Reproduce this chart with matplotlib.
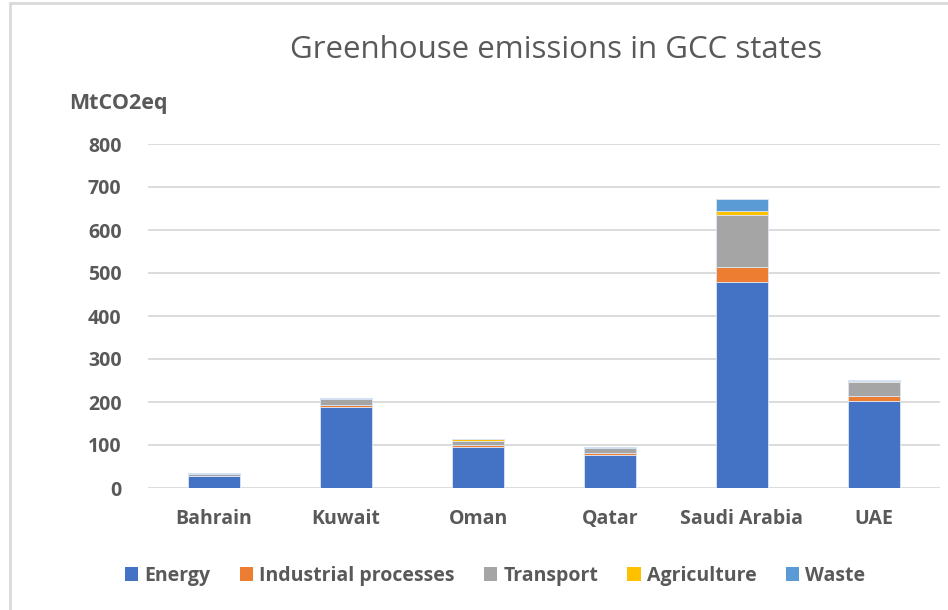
import numpy as np
import matplotlib.pyplot as plt
from matplotlib.patches import Patch, Rectangle

# Chart data (MtCO2eq).
countries = ['Bahrain', 'Kuwait', 'Oman', 'Qatar', 'Saudi Arabia', 'UAE']
sectors = ['Energy', 'Industrial processes', 'Transport', 'Agriculture', 'Waste']
energy = [28, 188, 95, 77, 478, 202]
industrial = [1, 5, 4, 4, 35, 12]
transport = [4, 13, 11, 11, 122, 33]
agriculture = [0.5, 0.5, 3, 1, 9, 3]
waste = [1, 2, 2, 2, 27, 2]
yticks = [0, 100, 200, 300, 400, 500, 600, 700, 800]

COLORS = ['#4472C4', '#ED7D31', '#A5A5A5', '#FFC000', '#5B9BD5']
TEXT = '#595959'
FONT = 'Open Sans'

fig = plt.figure(figsize=(9.48, 6.10), dpi=100)
ax = fig.add_axes([148 / 948, 1 - 488 / 610, (940 - 148) / 948, 344 / 610])

x = np.arange(len(countries))
bottom = np.zeros(len(countries))
for name, vals, col in zip(sectors, [energy, industrial, transport, agriculture, waste], COLORS):
    ax.bar(x, vals, width=0.4, bottom=bottom, color=col, edgecolor='#DCE6F5',
           linewidth=0.6, zorder=3, label=name)
    bottom += np.array(vals)

ax.set_xlim(-0.5, len(countries) - 0.5)
ax.set_ylim(0, 800)
ax.set_yticks(yticks)
ax.set_yticklabels([str(v) for v in yticks], fontsize=14, fontweight='bold',
                   color=TEXT, family=FONT)
ax.set_xticks(x)
ax.set_xticklabels(countries, fontsize=14, fontweight='bold', color=TEXT, family=FONT)
ax.tick_params(length=0)
ax.tick_params(axis='y', pad=19)
ax.tick_params(axis='x', pad=15)
ax.grid(axis='y', color='#D9D9D9', linewidth=1.3, zorder=0)
for s in ax.spines.values():
    s.set_visible(False)

fig.text(556 / 948, 1 - 50 / 610, 'Greenhouse emissions in GCC states', ha='center',
         va='center', fontsize=22.5, color=TEXT, family=FONT)
fig.text(69 / 948, 1 - 104 / 610, 'MtCO2eq', ha='left', va='center', fontsize=15.5,
         fontweight='bold', color=TEXT, family=FONT)

handles = [Patch(facecolor=c, edgecolor='none') for c in COLORS]
fig.legend(handles, sectors, loc='center', bbox_to_anchor=(495 / 948, 1 - 576 / 610),
           ncol=5, frameon=False, handlelength=0.7, handleheight=0.7,
           handletextpad=0.3, columnspacing=1.5,
           prop={'family': FONT, 'weight': 'bold', 'size': 14}, labelcolor=TEXT)

# chart frame
fig.patches.append(Rectangle((10 / 948, -0.1), 1.0, 1 - 3 / 610 + 0.1,
                             transform=fig.transFigure, fill=False,
                             edgecolor='#D9D9D9', linewidth=2))

fig.savefig('out.png', dpi=100)
